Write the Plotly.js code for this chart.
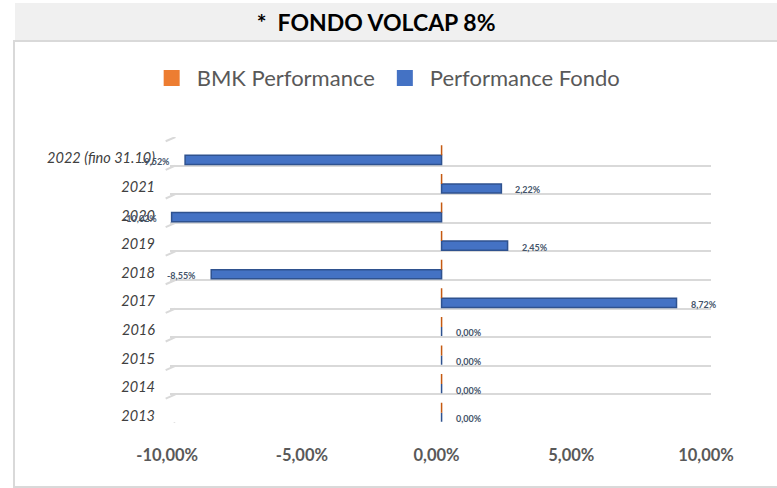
<!DOCTYPE html>
<html>
<head>
<meta charset="utf-8">
<script src="https://cdn.plot.ly/plotly-3.0.1.min.js"></script>
<style>
  html, body { margin: 0; padding: 0; background: #ffffff; }
  #wrap { position: relative; width: 777px; height: 488px; overflow: hidden; }
  #band { position: absolute; left: 15px; top: 3px; width: 762px; height: 37px; background: #f0f0f0; }
  #box { position: absolute; left: 13px; top: 40px; width: 780px; height: 444px; border: 2px solid #d9d9d9; box-sizing: content-box; }
  #chart { position: absolute; left: 0; top: 0; width: 777px; height: 488px; }
</style>
</head>
<body>
<div id="wrap">
  <div id="band"></div>
  <div id="box"></div>
  <div id="chart"></div>
</div>
<script>
// ---- data ----
const categories = ["2013", "2014", "2015", "2016", "2017", "2018", "2019", "2020", "2021", "2022 (fino 31.10)"];
const bmkPerformance = [0, 0, 0, 0, 0, 0, 0, 0, 0, 0];
const fondoPerformance = [0.00, 0.00, 0.00, 0.00, 8.72, -8.55, 2.45, -10.02, 2.22, -9.52];
const xTickVals = [-10, -5, 0, 5, 10];
const xTickText = ["-10,00%", "-5,00%", "0,00%", "5,00%", "10,00%"];
const seriesNames = ["BMK Performance", "Performance Fondo"];
const seriesColors = ["#ed7d31", "#4472c4"];

function fmt(v) { return v.toFixed(2).replace('.', ',') + '%'; }

const fondo = {
  type: 'bar', orientation: 'h', name: seriesNames[1], showlegend: false,
  y: categories, x: fondoPerformance,
  offset: -0.46, width: 0.32,
  marker: { color: seriesColors[1], line: { color: '#2f528f', width: 1.5 } },
  hoverinfo: 'skip'
};
const bmk = {
  type: 'bar', orientation: 'h', name: seriesNames[0], showlegend: false,
  y: categories, x: bmkPerformance,
  offset: -0.14, width: 0.35,
  marker: { color: seriesColors[0], line: { color: '#c55a11', width: 1.5 } },
  hoverinfo: 'skip'
};
// legend entries (square swatches)
const legendTraces = seriesNames.map((n, i) => ({
  type: 'scatter', mode: 'markers', name: n, x: [null], y: [null],
  marker: { symbol: 'square', size: 16, color: seriesColors[i], line: { width: 0 } },
  showlegend: true, hoverinfo: 'skip'
}));

// labels: category index used as position on the category axis
const annotations = categories.map((c, i) => {
  const v = fondoPerformance[i];
  return {
    x: v, y: i, xref: 'x', yref: 'y', text: fmt(v), showarrow: false,
    xanchor: v < 0 ? 'right' : 'left', yanchor: 'middle',
    xshift: v < 0 ? -13 : 12, yshift: -10,
    font: { family: 'Lato, "Open Sans", sans-serif', size: 9, color: '#44546a', weight: 'bold' }
  };
});

// 3D-like diagonal ends of the grid lines
const shapes = [];
for (let k = 0; k <= categories.length; k++) {
  const b = k - 0.5;
  shapes.push({
    type: 'line', xref: 'paper', yref: 'y', layer: 'below',
    x0: -0.008, x1: 0.01, y0: b - 0.15, y1: b,
    line: { color: '#d9d9d9', width: 2 }
  });
}

const layout = {
  width: 777, height: 488,
  paper_bgcolor: 'rgba(0,0,0,0)', plot_bgcolor: 'rgba(0,0,0,0)',
  margin: { l: 170, r: 66, t: 137, b: 65 },
  barmode: 'overlay',
  title: {
    text: '*  FONDO VOLCAP 8%', x: 0.484, xref: 'container', xanchor: 'center',
    y: 0.953, yref: 'container', yanchor: 'middle',
    font: { family: 'Lato, "Open Sans", sans-serif', size: 23, color: '#000000', weight: 'bold' }
  },
  showlegend: true,
  legend: {
    orientation: 'h', xref: 'container', yref: 'container',
    x: 0.497, xanchor: 'center', y: 0.84, yanchor: 'middle',
    font: { family: 'Lato, "Open Sans", sans-serif', size: 22, color: '#595959' },
    itemwidth: 40
  },
  xaxis: {
    range: [-10.08, 10], tickvals: xTickVals, ticktext: xTickText,
    showgrid: false, zeroline: false, showline: false, ticks: '',
    ticklabelstandoff: 20, ticklabelshift: -5,
    tickfont: { family: 'Lato, "Open Sans", sans-serif', size: 16.5, color: '#595959', weight: 'bold' },
    fixedrange: true
  },
  yaxis: {
    type: 'category', categoryorder: 'array', categoryarray: categories,
    range: [-0.5, categories.length - 0.5],
    tickson: 'boundaries', showgrid: true, gridcolor: '#d9d9d9', gridwidth: 2,
    zeroline: false, showline: false, ticks: '',
    ticklabelstandoff: 14, ticklabelshift: 7,
    tickfont: { family: 'Lato, "Open Sans", sans-serif', size: 14.5, color: '#404040', style: 'italic' },
    fixedrange: true
  },
  annotations: annotations,
  shapes: shapes
};

Plotly.newPlot('chart', [fondo, bmk].concat(legendTraces), layout, { displayModeBar: false, staticPlot: true });
</script>
</body>
</html>
